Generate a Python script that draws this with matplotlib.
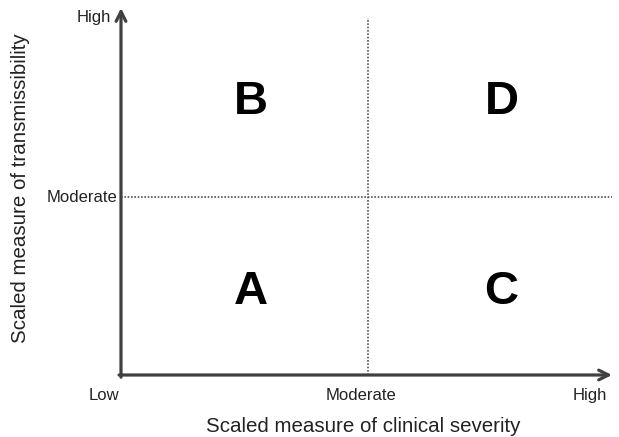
import matplotlib.pyplot as plt

plt.rcParams['font.family'] = ['Liberation Sans', 'DejaVu Sans']

# quadrant letters and where they sit (severity, transmissibility on 0..1 scale)
quadrants = ['A', 'B', 'C', 'D']
quad_x = [0.265, 0.265, 0.775, 0.775]
quad_y = [0.225, 0.745, 0.225, 0.745]

x_ticks = ['Low', 'Moderate', 'High']
y_ticks = ['Moderate', 'High']
x_mod = 0.503
y_mod = 0.485

axis_col = '#404040'
dot_col = '#555555'
text_col = '#222222'

fig = plt.figure(figsize=(6.19, 4.37), dpi=100)
ax = fig.add_axes([121 / 619, 62 / 437, 491 / 619, 367 / 437])
ax.set_xlim(0, 1)
ax.set_ylim(0, 1)
ax.axis('off')

# moderate dividers
ax.plot([x_mod, x_mod], [0, 0.973], ls=(0, (1, 1)), color=dot_col, lw=1.2, clip_on=False)
ax.plot([0, 1], [y_mod, y_mod], ls=(0, (1, 1)), color=dot_col, lw=1.2, clip_on=False)

# axes with arrow heads
arrow = dict(arrowstyle='->,head_length=0.7,head_width=0.35', color=axis_col, lw=2.3,
             shrinkA=0, shrinkB=0)
ax.annotate('', xy=(1, 0), xytext=(-0.004, 0), arrowprops=arrow, annotation_clip=False)
ax.annotate('', xy=(0, 1), xytext=(0, -0.006), arrowprops=arrow, annotation_clip=False)

for q, x, y in zip(quadrants, quad_x, quad_y):
    ax.text(x, y, q, fontsize=34, fontweight='bold', ha='center', va='center')

# tick labels
ax.text(-0.035, -0.055, x_ticks[0], fontsize=12, ha='center', va='center', color=text_col)
ax.text(x_mod - 0.015, -0.055, x_ticks[1], fontsize=12, ha='center', va='center', color=text_col)
ax.text(0.955, -0.055, x_ticks[2], fontsize=12, ha='center', va='center', color=text_col)
ax.text(-0.008, y_mod, y_ticks[0], fontsize=12, ha='right', va='center', color=text_col)
ax.text(-0.02, 0.975, y_ticks[1], fontsize=12, ha='right', va='center', color=text_col)

ax.text(x_mod - 0.01, -0.14, 'Scaled measure of clinical severity', fontsize=14.8,
        ha='center', va='center', color=text_col)
ax.text(-0.205, 0.51, 'Scaled measure of transmissibility', fontsize=14.8, rotation=90,
        ha='center', va='center', color=text_col)

fig.savefig('out.png', dpi=100, facecolor='white')
